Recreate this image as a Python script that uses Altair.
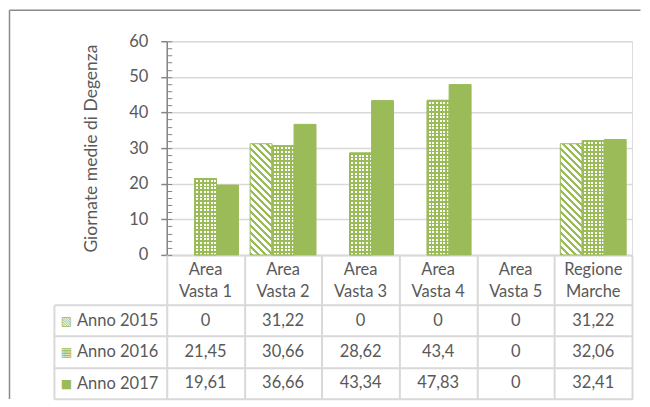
import altair as alt
import pandas as pd

# ---------------- data ----------------
categories = ["Area Vasta 1", "Area Vasta 2", "Area Vasta 3", "Area Vasta 4", "Area Vasta 5", "Regione Marche"]
years = ["Anno 2015", "Anno 2016", "Anno 2017"]
anno_2015 = [0, 31.22, 0, 0, 0, 31.22]
anno_2016 = [21.45, 30.66, 28.62, 43.4, 0, 32.06]
anno_2017 = [19.61, 36.66, 43.34, 47.83, 0, 32.41]
y_ticks = [0, 10, 20, 30, 40, 50, 60]
minor_ticks = list(range(0, 61, 2))
swatches = {"Anno 2015": "\u25A7", "Anno 2016": "\u25A6", "Anno 2017": "\u25A0"}
y_title = "Giornate medie di Degenza"

rows = []
for yr, vals in zip(years, [anno_2015, anno_2016, anno_2017]):
    for c, v in zip(categories, vals):
        rows.append({"cat": c, "year": yr, "value": v, "label": f"{v:g}".replace(".", ",")})
df = pd.DataFrame(rows)

# ---------------- style ----------------
FONT = "Lato"
FS = 16.5
GREEN = "#9BBB59"
TEXT = "#595959"
GRID = "#D9D9D9"
AXIS = "#868686"
FRAME = "#8A8A8A"
CLEAR = "rgba(255,255,255,0)"
W, H = 466, 214
HEADER, ROW, LEG = 50, 31.4, 113
PAD_OUT = 0.266
YMAX = 60


def stripes(n, frac, c1, c2):
    stops = []
    for k in range(n):
        a, b, c = k / n, (k + frac) / n, (k + 1) / n
        stops += [{"offset": a, "color": c1}, {"offset": b, "color": c1},
                  {"offset": b, "color": c2}, {"offset": c, "color": c2}]
    return stops


# diagonal hatch for 2015 (its bars have equal size): 45 degree "\" stripes
bw = W / len(categories) / (3 + 2 * PAD_OUT)
bh = anno_2015[1] / YMAX * H
s = (bw + bh) / (bw ** 2 + bh ** 2)
grad15 = {"gradient": "linear", "x1": 0, "y1": 1, "x2": s * bw, "y2": 1 - s * bh,
          "stops": stripes(19, 0.42, GREEN, "#FFFFFF")}
# small grid pattern for 2016: vertical stripes + horizontal stripes overlay
PERIOD = 3.6
grad16 = {"gradient": "linear", "x1": 0, "y1": 0, "x2": 1, "y2": 0,
          "stops": stripes(max(1, round(bw / PERIOD)), 0.45, GREEN, "#FFFFFF")}
overlay_cond = []
for c, v in zip(categories, anno_2016):
    if v > 0:
        n = max(1, round(v / YMAX * H / PERIOD))
        overlay_cond.append({"test": f"datum.cat === '{c}'",
                             "value": {"gradient": "linear", "x1": 0, "y1": 0, "x2": 0, "y2": 1,
                                       "stops": stripes(n, 0.45, GREEN, CLEAR)}})

fill_def = {"condition": [{"test": "datum.year === 'Anno 2015'", "value": grad15},
                          {"test": "datum.year === 'Anno 2016'", "value": grad16}],
            "value": GREEN}

# ---------------- top: bars ----------------
x_scale = alt.Scale(domain=categories, paddingInner=0, paddingOuter=0)
x_top = alt.X("cat:N", scale=x_scale,
              axis=alt.Axis(title=None, orient="bottom", ticks=False, domainColor=GRID, domainWidth=2,
                            labelExpr="[slice(datum.label, 0, indexof(datum.label, ' ')), slice(datum.label, indexof(datum.label, ' ') + 1)]",
                            labelAngle=0, labelBaseline="top", labelPadding=7, labelLineHeight=22,
                            labelFontSize=FS, labelColor=TEXT, labelFont=FONT))
x_off = alt.XOffset("year:N", scale=alt.Scale(domain=years, paddingInner=0, paddingOuter=PAD_OUT))
y_scale_top = alt.Scale(domain=[0, YMAX], nice=False)

y_main = alt.Y("value:Q", scale=y_scale_top,
               axis=alt.Axis(values=y_ticks, title=y_title, orient="left",
                             tickSize=6, tickColor=AXIS, tickWidth=1.5,
                             domainColor=AXIS, domainWidth=1.5,
                             gridColor=GRID, gridWidth=1.5,
                             labelPadding=13, labelFontSize=FS, labelColor=TEXT, labelFont=FONT,
                             titleFontSize=17.5, titleColor=TEXT, titleFont=FONT, titleFontWeight="normal",
                             titlePadding=28))

bars = alt.Chart(df).transform_filter("datum.value > 0").mark_bar(stroke=GREEN, strokeWidth=1).encode(
    x=x_top, xOffset=x_off, y=y_main, fill=fill_def)

dots = alt.Chart(df).transform_filter("datum.year === 'Anno 2016' && datum.value > 0").mark_bar(
    stroke=GREEN, strokeWidth=1).encode(
    x=x_top, xOffset=x_off,
    y=alt.Y("value:Q", scale=y_scale_top, axis=None),
    fill={"condition": overlay_cond, "value": CLEAR})

minor = alt.Chart(df).mark_point(opacity=0).encode(
    y=alt.Y("value:Q", scale=y_scale_top,
            axis=alt.Axis(orient="left", offset=-5, values=minor_ticks, tickSize=5, tickColor=AXIS,
                          tickWidth=1, labels=False, domain=False, grid=False, title=None)))

one = pd.DataFrame({"k": [0]})
frame_v = alt.Chart(one).mark_rule(color=FRAME, strokeWidth=1.5).encode(
    x=alt.value(-157.5), y=alt.value(-31), y2=alt.value(H + HEADER + 3 * ROW))
frame_h = alt.Chart(one).mark_rule(color=FRAME, strokeWidth=1.5).encode(
    x=alt.value(-157.5), x2=alt.value(W + 8.5), y=alt.value(-31))

top = alt.layer(bars, dots, minor, frame_v, frame_h).resolve_scale(y="independent").properties(width=W, height=H)

# ---------------- bottom: data table ----------------
x_bot = alt.X("cat:N", scale=x_scale,
              axis=alt.Axis(orient="top", title=None, labels=False, domain=False, ticks=True,
                            tickBand="extent", tickSize=HEADER, tickColor=GRID, tickWidth=2,
                            grid=True, gridColor=GRID, gridWidth=2))
y_scale = alt.Scale(domain=years, paddingInner=0, paddingOuter=0)
y_bot = alt.Y("year:N", scale=y_scale,
              axis=alt.Axis(orient="left", title=None, ticks=False, domain=False, grid=True,
                            tickBand="extent", gridColor=GRID, gridWidth=2, labelPadding=9,
                            labelFontSize=FS, labelColor=TEXT, labelFont=FONT))

cells = alt.Chart(df).mark_text(font=FONT, fontSize=FS, color=TEXT).encode(
    x=x_bot, y=y_bot, text="label:N")

border = alt.Chart(df).mark_point(opacity=0).encode(
    y=alt.Y("year:N", scale=y_scale,
            axis=alt.Axis(orient="right", offset=-(W + LEG), title=None, labels=False, grid=False,
                          ticks=True, tickBand="extent", tickSize=LEG, tickColor=GRID, tickWidth=2,
                          domain=True, domainColor=GRID, domainWidth=2)))

sw_items = list(swatches.items())
sw_expr = " : ".join(f"datum.label == '{k}' ? '{v}'" for k, v in sw_items[:-1]) + f" : '{sw_items[-1][1]}'"
swatch = alt.Chart(df).mark_point(opacity=0).encode(
    y=alt.Y("year:N", scale=y_scale,
            axis=alt.Axis(orient="left", title=None, ticks=False, domain=False, grid=False,
                          labelExpr=sw_expr, labelAlign="center", labelPadding=101,
                          labelFont="DejaVu Sans", labelFontSize=12, labelColor=GREEN)))

bottom = alt.layer(cells, border, swatch).resolve_scale(y="independent").properties(width=W, height=3 * ROW)

chart = alt.vconcat(top, bottom, spacing=HEADER, bounds="flush").properties(
    padding={"left": 0, "top": 0, "right": 0, "bottom": 0}
).configure_view(stroke="transparent").configure(font=FONT)

chart.save("out.html", embed_options={"renderer": "svg", "actions": False})
